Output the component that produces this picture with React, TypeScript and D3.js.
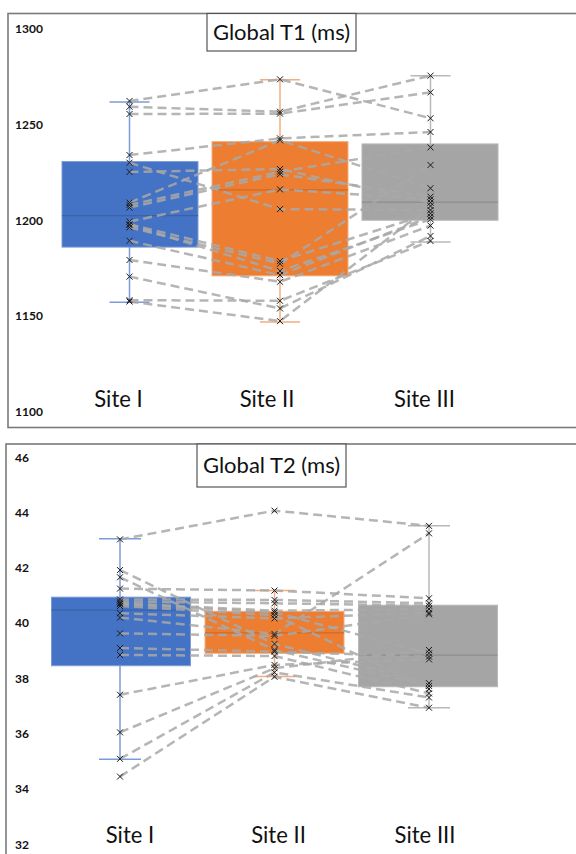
import React from "react";
import * as d3 from "d3";

const sites = ["Site I", "Site II", "Site III"];
const boxColors = ["#4472C4", "#ED7D31", "#A5A5A5"];
const medianColors = ["#3A62A8", "#D06A25", "#8E8E8E"];
const whiskerColors = ["#7C9BD6", "#F2AE82", "#B8B8B8"];

// Global T1 (ms)
const t1Ticks = [1100, 1150, 1200, 1250, 1300];
const t1SiteI = [1262.2, 1259.2, 1255.4, 1234, 1230, 1225.2, 1209.2, 1208, 1206.6, 1199.3, 1197.9, 1197.5, 1196.3, 1189.3, 1179.3, 1170.6, 1158.3, 1157.6];
const t1SiteII = [1273.5, 1256.6, 1255.6, 1242.7, 1205.8, 1226.7, 1241.7, 1225.3, 1224, 1216.1, 1178.7, 1173.5, 1177.3, 1171.4, 1167.9, 1154, 1158, 1147.4];
const t1SiteIII = [1253.2, 1275.4, 1266.7, 1246, 1205.3, 1209.2, 1216.7, 1238, 1212.3, 1210.9, 1203.6, 1200.5, 1228.8, 1201.9, 1197.2, 1191.8, 1189.2, 1207.4];
// box stats: [lower whisker, q1, median, q3, upper whisker]
const t1Stats = [
  [1157.2, 1186, 1202.4, 1230.6, 1261.7],
  [1147, 1171, 1215.8, 1241, 1273.3],
  [1188.7, 1200, 1209.5, 1239.8, 1275.4],
];

// Global T2 (ms)
const t2Ticks = [32, 34, 36, 38, 40, 42, 44, 46];
const t2SiteI = [43.03, 41.92, 41.66, 41.25, 40.86, 40.78, 40.72, 40.69, 40.62, 40.36, 40.2, 39.63, 39.1, 38.85, 37.41, 36.05, 35.09, 34.45];
const t2SiteII = [44.07, 39.25, 39.03, 41.18, 40.84, 40.72, 40.45, 40.39, 40.29, 40.17, 39.61, 39.54, 38.97, 38.81, 38.49, 38.37, 38.22, 38.06];
const t2SiteIII = [43.52, 37.83, 37.73, 40.9, 40.72, 40.63, 40.51, 38.91, 37.62, 40.38, 43.25, 40.32, 38.79, 37.46, 38.69, 39.03, 37.31, 36.94];
const t2Stats = [
  [35.08, 38.46, 40.47, 40.94, 43.05],
  [38.07, 38.91, 39.65, 40.43, 41.18],
  [36.94, 37.7, 38.84, 40.65, 43.52],
];

type PanelProps = {
  title: string;
  ticks: number[];
  domain: [number, number];
  yRange: [number, number];
  xRange: [number, number];
  boxCenters: number[];
  boxWidth: number;
  capWidth: number;
  labelOffsets: number[];
  labelY: number;
  frame: { x: number; y: number; h: number };
  titleBox: { x: number; y: number; w: number; h: number };
  series: number[][];
  stats: number[][];
};

const FONT = "Lato, 'Open Sans', sans-serif";

function Panel(p: PanelProps) {
  const y = d3.scaleLinear().domain(p.domain).range(p.yRange);
  const x = d3.scalePoint<string>().domain(sites).range(p.xRange);
  const n = p.series[0].length;
  const line = d3
    .line<[number, number]>()
    .x((d) => d[0])
    .y((d) => d[1]);
  const subjects = d3.range(n).map((i) =>
    sites.map((s, k) => [x(s) as number, y(p.series[k][i])] as [number, number])
  );
  const m = 3;
  return (
    <g>
      <rect
        x={p.frame.x}
        y={p.frame.y}
        width={700}
        height={p.frame.h}
        fill="white"
        stroke="#7a7a7a"
        strokeWidth={1.6}
      />
      {p.ticks.map((t) => (
        <text
          key={t}
          x={15}
          y={y(t)}
          dy="0.36em"
          fontFamily={FONT}
          fontWeight="bold"
          fontSize={12}
          fill="#111"
        >
          {t}
        </text>
      ))}
      {sites.map((s, k) => {
        const st = p.stats[k];
        const cx = x(s) as number;
        const bx = p.boxCenters[k];
        return (
          <g key={s}>
            <line x1={cx} x2={cx} y1={y(st[0])} y2={y(st[4])} stroke={whiskerColors[k]} strokeWidth={1.5} />
            <line x1={cx - p.capWidth / 2} x2={cx + p.capWidth / 2} y1={y(st[0])} y2={y(st[0])} stroke={whiskerColors[k]} strokeWidth={1.5} />
            <line x1={cx - p.capWidth / 2} x2={cx + p.capWidth / 2} y1={y(st[4])} y2={y(st[4])} stroke={whiskerColors[k]} strokeWidth={1.5} />
            <rect
              x={bx - p.boxWidth / 2}
              y={y(st[3])}
              width={p.boxWidth}
              height={y(st[1]) - y(st[3])}
              fill={boxColors[k]}
              stroke={whiskerColors[k]}
              strokeWidth={1}
            />
            <line x1={bx - p.boxWidth / 2} x2={bx + p.boxWidth / 2} y1={y(st[2])} y2={y(st[2])} stroke={medianColors[k]} strokeWidth={1.2} />
          </g>
        );
      })}
      {subjects.map((pts, i) => (
        <path
          key={i}
          d={line(pts) || ""}
          fill="none"
          stroke="#a8a8a8"
          strokeOpacity={0.85}
          strokeWidth={2.5}
          strokeDasharray="9 5"
        />
      ))}
      {subjects.map((pts, i) =>
        pts.map((pt, k) => (
          <path
            key={i + "-" + k}
            d={`M${pt[0] - m},${pt[1] - m}L${pt[0] + m},${pt[1] + m}M${pt[0] - m},${pt[1] + m}L${pt[0] + m},${pt[1] - m}`}
            stroke="#1a1a1a"
            strokeWidth={1}
          />
        ))
      )}
      {sites.map((s, k) => (
        <text
          key={s}
          x={(x(s) as number) + p.labelOffsets[k]}
          y={p.labelY}
          textAnchor="middle"
          fontFamily={FONT}
          fontSize={24}
          transform={`translate(${(x(s) as number) + p.labelOffsets[k]},0) scale(0.92,1) translate(${-((x(s) as number) + p.labelOffsets[k])},0)`}
          fill="#111"
        >
          {s}
        </text>
      ))}
      <rect
        x={p.titleBox.x}
        y={p.titleBox.y}
        width={p.titleBox.w}
        height={p.titleBox.h}
        fill="white"
        stroke="#555"
        strokeWidth={1.2}
      />
      <text
        x={p.titleBox.x + p.titleBox.w / 2}
        y={p.titleBox.y + p.titleBox.h / 2}
        dy="0.35em"
        textAnchor="middle"
        fontFamily={FONT}
        fontSize={22}
        fill="#111"
      >
        {p.title}
      </text>
    </g>
  );
}

export default function App() {
  return (
    <svg
      width={576}
      height={854}
      style={{ position: "absolute", left: 0, top: 0, background: "white" }}
    >
      <Panel
        title="Global T1 (ms)"
        ticks={t1Ticks}
        domain={[1100, 1300]}
        yRange={[412, 28.5]}
        xRange={[129.5, 430.5]}
        boxCenters={[130, 280, 430]}
        boxWidth={136}
        capWidth={40}
        labelOffsets={[-11, -13, -6]}
        labelY={407}
        frame={{ x: 8, y: 13.5, h: 414 }}
        titleBox={{ x: 207, y: 13.5, w: 149, h: 37.5 }}
        series={[t1SiteI, t1SiteII, t1SiteIII]}
        stats={t1Stats}
      />
      <Panel
        title="Global T2 (ms)"
        ticks={t2Ticks}
        domain={[32, 46]}
        yRange={[844.3, 457.3]}
        xRange={[120, 429]}
        boxCenters={[121, 274.5, 428]}
        boxWidth={139}
        capWidth={42}
        labelOffsets={[10, 4, -4]}
        labelY={843}
        frame={{ x: 6, y: 444, h: 500 }}
        titleBox={{ x: 197, y: 444, w: 149, h: 43 }}
        series={[t2SiteI, t2SiteII, t2SiteIII]}
        stats={t2Stats}
      />
    </svg>
  );
}
